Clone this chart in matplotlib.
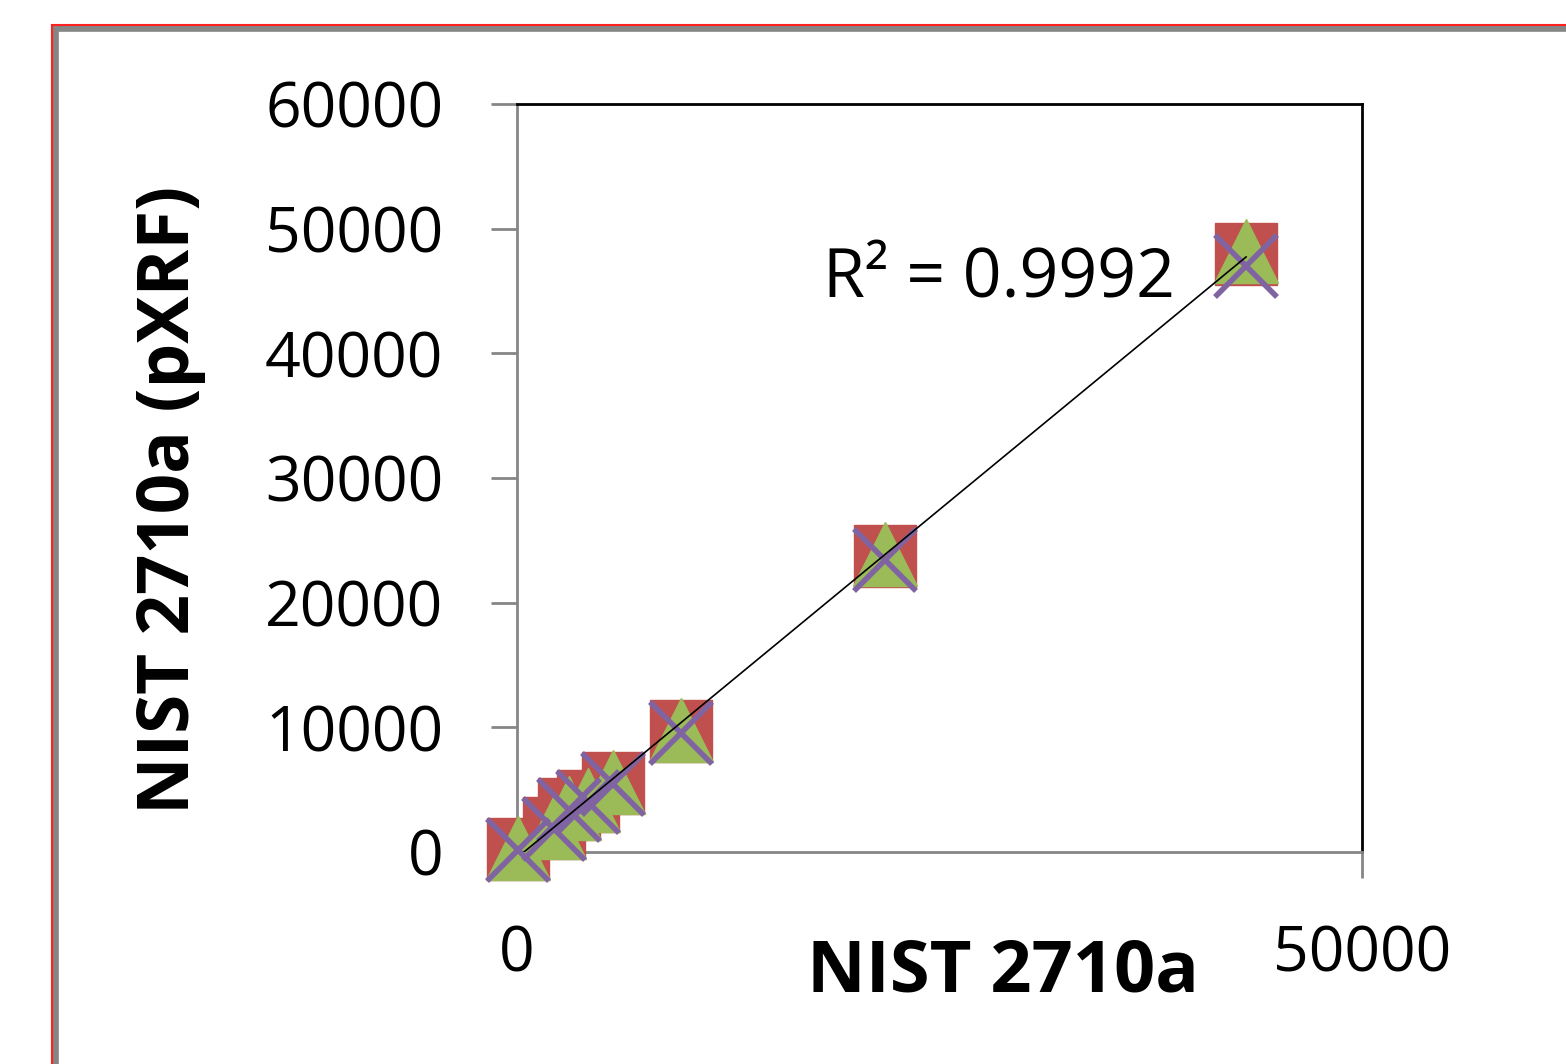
import numpy as np
import matplotlib.pyplot as plt
from matplotlib.patches import Rectangle

# certified (NIST 2710a) vs measured (pXRF) values, four runs
nist = [60, 2190, 3080, 4200, 5680, 9700, 21780, 43140]
run_blue = [240, 1920, 3450, 4090, 5530, 9710, 23750, 47970]
run_red = [240, 1920, 3450, 4090, 5530, 9710, 23750, 47970]
run_green = [300, 2000, 3500, 4150, 5600, 9800, 23900, 48200]
run_purple = [150, 1850, 3350, 4000, 5450, 9550, 23450, 47000]
r2_text = "R² = 0.9992"

plt.rcParams['font.family'] = ['Open Sans', 'DejaVu Sans']

fig = plt.figure(figsize=(15.66, 10.64), dpi=100)

# outer chart frame (gray with thin red edge)
fig.patches.append(Rectangle((55/1566, -0.1), 1.2, 1 - 28/1064 + 0.1, transform=fig.transFigure,
                             fill=False, edgecolor='#858585', linewidth=5.5))
fig.patches.append(Rectangle((52/1566, -0.1), 1.2, 1 - 25/1064 + 0.1, transform=fig.transFigure,
                             fill=False, edgecolor='#ff2020', linewidth=1.5))

ax = fig.add_axes([517/1566, 1 - 852/1064, 845/1566, 748/1064])

ax.plot(nist, run_blue, 'D', color='#4F81BD', markersize=32, clip_on=False, zorder=3)
ax.plot(nist, run_red, 's', color='#C0504D', markersize=44, clip_on=False, zorder=4)
ax.plot(nist, run_green, '^', color='#9BBB59', markersize=46, clip_on=False, zorder=5)
ax.plot(nist, run_purple, 'x', color='#8064A2', markersize=44, markeredgewidth=4,
        clip_on=False, zorder=6)

k, b = np.polyfit(nist, run_red, 1)
xs = np.array([min(nist), max(nist)])
ax.plot(xs, k * xs + b, color='black', linewidth=1.2, zorder=7)
ax.text(0.57, 0.765, r2_text, transform=ax.transAxes, fontsize=49, ha='center', va='center')

ax.set_xlim(0, 50000)
ax.set_ylim(0, 60000)
ax.set_xticks([0, 50000])
ax.set_yticks(range(0, 60001, 10000))
ax.tick_params(axis='both', direction='out', length=19, width=2, color='#868686',
               labelsize=45)
ax.tick_params(axis='y', pad=34)
ax.tick_params(axis='x', pad=33)

for s in ['left', 'bottom']:
    ax.spines[s].set_color('#868686')
    ax.spines[s].set_linewidth(2)
for s in ['top', 'right']:
    ax.spines[s].set_color('black')
    ax.spines[s].set_linewidth(2)

fig.text(1003/1566, 1 - 972/1064, 'NIST 2710a', fontsize=52, fontweight='bold',
         ha='center', va='center')
fig.text(170/1566, 1 - 500/1064, 'NIST 2710a (pXRF)', fontsize=51, fontweight='bold',
         ha='center', va='center', rotation=90)

fig.savefig('out.png', dpi=100)
